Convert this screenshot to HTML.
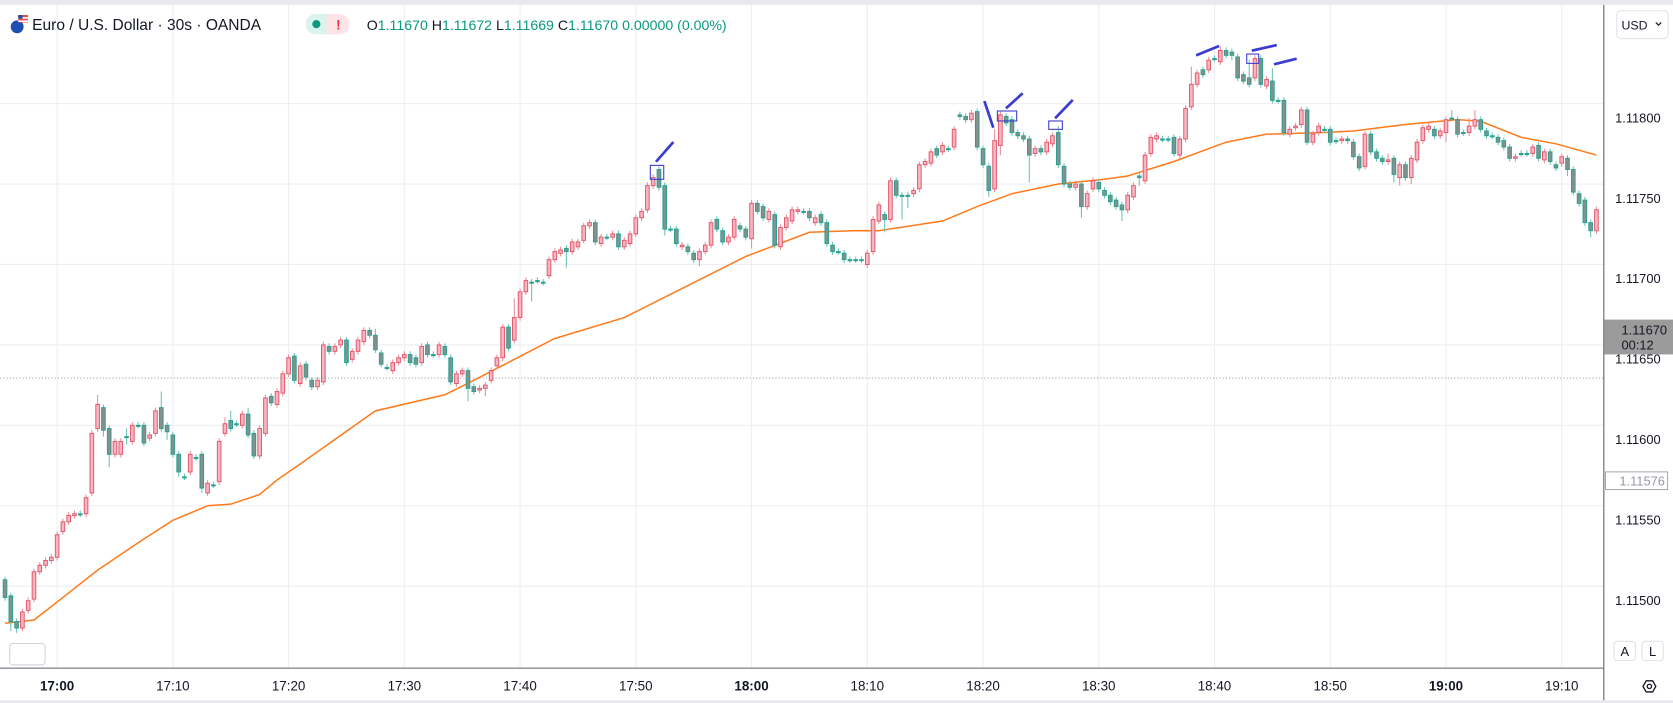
<!DOCTYPE html>
<html><head><meta charset="utf-8"><style>
html,body{margin:0;padding:0;background:#fff;overflow:hidden}
svg{display:block;font-family:"Liberation Sans",sans-serif}
</style></head><body>
<svg id="chart" width="1673" height="703" viewBox="0 0 1560 655.5" preserveAspectRatio="none" xmlns="http://www.w3.org/2000/svg">
<rect x="0" y="0" width="1560" height="655.5" fill="#ffffff"/>
<rect x="0" y="0" width="1560" height="4.5" fill="#e8e9ee"/>
<rect x="0" y="653" width="1560" height="2.5" fill="#e8e9ee"/>
<g id="grid"></g>
<g id="ma"></g>
<g id="candles"></g>
<line x1="0" y1="352.6" x2="1495" y2="352.6" stroke="#9598a1" stroke-width="1" stroke-dasharray="1,2"/>
<g stroke="#3b3bd0" fill="none">
<rect x="606.4" y="154.2" width="12.5" height="13" stroke-width="1"/>
<line x1="611.7" y1="150.8" x2="627.9" y2="132.4" stroke-width="2.5"/>
<line x1="917.9" y1="94.2" x2="926.2" y2="119.1" stroke-width="2.5"/>
<rect x="930" y="103.5" width="18" height="9.3" stroke-width="1"/>
<line x1="938" y1="101" x2="953.6" y2="87" stroke-width="2.5"/>
<rect x="977.9" y="112.8" width="12.7" height="7.8" stroke-width="1"/>
<line x1="983.8" y1="110.3" x2="1000.3" y2="93.2" stroke-width="2.5"/>
<line x1="1115.3" y1="51.6" x2="1136.7" y2="42.9" stroke-width="2.5"/>
<rect x="1162.5" y="50.4" width="11.2" height="8.7" stroke-width="1"/>
<line x1="1167.2" y1="47.3" x2="1190.5" y2="42" stroke-width="2.5"/>
<line x1="1188" y1="60" x2="1209.1" y2="54.7" stroke-width="2.5"/>
</g>
<!-- axes -->
<line x1="1495.5" y1="4.5" x2="1495.5" y2="653" stroke="#5d606b" stroke-width="1"/>
<line x1="0" y1="623" x2="1495.5" y2="623" stroke="#5d606b" stroke-width="1"/>
<g id="yticks"></g>
<g id="xticks"></g>
<!-- header -->
<g>
<circle cx="16" cy="25" r="6" fill="#1e4fb5"/>
<rect x="17" y="14" width="9" height="7" fill="#e34a4a"/>
<rect x="17" y="16" width="9" height="1.5" fill="#fff"/>
<rect x="17" y="19" width="9" height="1.5" fill="#fff"/>
<rect x="17" y="14" width="4" height="3.5" fill="#2a4aa0"/>
</g>
<text x="30" y="28" font-size="14.5" fill="#131722">Euro / U.S. Dollar · 30s · OANDA</text>
<g>
<rect x="285" y="13" width="41" height="19" rx="9.5" fill="#fde4e6"/>
<path d="M294.5 13 h10 v19 h-10 a9.5 9.5 0 0 1 0 -19z" fill="#dcf2ec"/>
<circle cx="295" cy="22.5" r="3.8" fill="#089981"/>
<text x="315.5" y="27.5" font-size="13" fill="#f23645" text-anchor="middle" font-weight="bold">!</text>
</g>
<text x="342" y="28" font-size="13.2" fill="#089981"><tspan fill="#131722">O</tspan>1.11670 <tspan fill="#131722">H</tspan>1.11672 <tspan fill="#131722">L</tspan>1.11669 <tspan fill="#131722">C</tspan>1.11670 0.00000 (0.00%)</text>
<!-- right panel widgets -->
<g>
<rect x="1507.5" y="10" width="48" height="26" rx="4" fill="#fff" stroke="#e0e3eb"/>
<text x="1512" y="27.5" font-size="11.5" fill="#131722">USD</text>
<path d="M1544 21 l2.5 2.5 l2.5 -2.5" stroke="#131722" fill="none" stroke-width="1.1"/>
</g>
<g>
<rect x="1496" y="298" width="64" height="32.5" fill="#9b9b9b"/>
<text x="1512" y="312" font-size="12" fill="#131722">1.11670</text>
<text x="1512" y="326" font-size="12" fill="#131722">00:12</text>
</g>
<g>
<rect x="1497" y="440" width="58" height="16.5" fill="#fff" stroke="#9598a1" stroke-width="0.8"/>
<text x="1510" y="452.5" font-size="12" fill="#9598a1">1.11576</text>
</g>
<g>
<rect x="1505" y="598" width="20" height="18" rx="3" fill="#fff" stroke="#e0e3eb"/>
<text x="1515" y="611.5" font-size="12" fill="#131722" text-anchor="middle">A</text>
</g>
<g>
<rect x="1531" y="598" width="20" height="18" rx="3" fill="#fff" stroke="#e0e3eb"/>
<text x="1541" y="611.5" font-size="12" fill="#131722" text-anchor="middle">L</text>
</g>
<g fill="none" stroke="#131722" stroke-width="1.2">
<path d="M1532 640 l3 -5.2 h6 l3 5.2 l-3 5.2 h-6 z"/>
<circle cx="1538" cy="640" r="2"/>
</g>
<rect x="9" y="600" width="33" height="20" rx="3" fill="#fff" stroke="#d1d4dc"/>
</svg>
<script>
const opens=[504,494,478,474,485,492,509,513,516,518,534,540,544,545,545,558,598,611,598,582,582,593,590,600,600,592,595,611,600,594,582,568,571,580,582,558,563,565,595,603,601,600,607,595,581,595,618,613,620,632,643,
626,638,628,624,627,649,646,650,653,641,646,652,659,656,645,636,634,639,642,644,642,639,650,644,644,649,642,626,632,634,624,622,623,628,637,642,661,653,667,683,689,690,689,693,703,707,710,708,711,
715,724,726,713,717,717,719,711,713,719,729,734,749,759,749,722,722,711,711,707,703,708,712,728,721,714,717,724,722,716,738,736,728,731,711,723,727,733,733,733,726,731,726,712,708,707,703,703,703,
700,708,727,731,728,752,743,743,744,747,762,763,772,770,772,773,793,792,790,795,772,761,747,774,792,790,782,780,778,769,772,770,775,782,761,750,748,750,736,747,751,746,
743,740,737,734,742,755,752,769,778,778,778,779,768,778,798,812,821,821,828,826,833,832,829,818,816,816,828,811,814,802,802,781,785,787,796,776,782,784,784,777,777,778,776,
767,761,781,770,766,764,766,754,762,754,765,777,784,784,780,782,791,790,782,782,786,790,783,780,779,777,773,766,769,769,769,774,765,770,762,763,766,759,744,740,726,721];
const closes=[493,478,474,484,491,509,513,516,518,532,540,544,545,545,555,595,613,597,582,590,590,593,600,600,589,594,609,598,596,582,571,568,582,580,561,564,563,590,601,598,601,607,594,581,598,617,614,621,632,642,628,
637,630,624,628,650,646,649,653,639,646,653,659,656,647,638,636,639,642,644,639,638,649,644,644,650,644,627,632,634,623,621,623,625,634,642,661,648,667,683,690,689,690,689,703,708,709,708,714,714,
724,726,714,717,717,719,711,715,719,729,733,749,754,748,722,722,713,712,708,703,708,712,726,722,714,717,728,722,717,738,733,729,733,712,723,729,734,734,733,729,729,726,713,708,708,703,703,703,703,
707,728,737,728,752,743,743,743,746,762,764,770,768,774,772,784,792,790,794,773,762,746,777,793,788,782,780,778,768,772,770,776,780,762,750,748,750,736,744,752,747,743,
739,736,734,743,749,754,768,779,780,778,778,769,778,797,812,819,818,827,828,833,830,830,816,814,812,828,812,815,802,802,782,784,786,796,776,781,786,784,776,777,778,777,767,
760,781,770,766,764,765,756,762,754,766,776,785,786,780,783,790,791,781,782,786,790,784,780,780,776,773,766,767,769,769,773,766,770,764,760,767,759,745,738,726,721,734];
const upperWick=[2,2,2,2,2,2,2,2,2,2,2,2,2,2,2,2,6,2,2,2,
2,5,2,2,2,2,2,10,2,2,2,2,2,2,2,2,2,2,4,6,
2,2,4,2,2,2,2,2,2,2,2,2,2,2,2,2,2,2,2,2,
2,2,2,2,4,2,2,2,2,2,2,2,2,2,2,2,2,2,2,2,
2,2,2,2,2,2,2,2,12,2,2,2,2,2,2,2,2,2,2,2,
2,2,2,2,2,2,2,2,2,2,2,2,2,2,2,2,2,2,2,2,
2,2,2,2,2,2,2,2,2,2,2,2,2,2,2,2,2,2,2,2,
2,2,2,2,2,2,2,2,2,2,2,2,2,2,2,2,2,2,2,2,
2,2,2,2,2,2,2,2,2,2,2,7,2,2,2,2,2,2,2,2,
2,2,4,2,2,2,2,2,2,2,2,2,2,2,2,2,2,2,2,2,
2,2,2,2,2,11,2,2,2,2,3,2,2,2,2,11,2,2,2,8,
2,2,2,2,2,2,2,2,2,2,2,2,2,2,2,2,2,2,2,4,
2,2,2,2,2,2,2,2,2,2,5,2,2,5,6,2,2,2,2,2,
2,2,2,2,2,2,2,2,2,2,2,2,2,2,2,2];
const lowerWick=[2,6,3,2,2,2,2,2,2,2,2,2,2,2,2,2,2,4,8,2,
2,5,2,2,2,2,2,2,5,2,3,2,2,2,3,2,2,2,2,2,
2,2,2,2,2,2,2,2,2,2,2,2,2,2,2,2,2,2,2,2,
2,2,2,2,2,2,2,2,2,2,2,2,2,2,2,2,2,2,2,2,
8,2,2,5,2,2,2,2,2,2,2,12,2,2,2,2,2,10,2,2,
2,2,2,2,2,2,2,2,2,2,2,2,2,2,4,2,2,2,2,2,
4,2,2,2,2,2,2,2,2,6,2,2,2,2,2,2,2,2,2,2,
2,2,2,2,2,2,2,2,2,2,2,2,8,2,2,15,8,2,2,2,
2,2,2,2,2,2,2,2,2,2,4,2,6,2,2,2,2,17,2,2,
2,2,2,2,2,2,7,2,2,2,2,2,2,7,2,2,5,2,2,2,
2,2,2,2,2,2,2,2,2,2,2,2,3,2,2,2,2,2,2,2,
2,2,2,2,2,2,2,2,2,2,2,2,2,2,2,2,2,2,2,2,
5,5,2,4,2,2,2,2,2,6,2,2,2,2,2,2,2,2,2,2,
2,2,2,2,2,2,2,2,2,2,4,2,2,2,4,2];
const maIndex=[0,5,10,16,23,29,35,39,44,47,51,64,76,81,95,107,128,139,147,151,162,168,174,182,190,194,202,211,218,228,233,242,251,255,262,268,275];
const maValues=[477,479,493,510,527,541,550,551,557,566,576,609,619,628,654,667,705,720,721,721,727,736,744,750,753,755,764,776,781,782,783,787,790,789,779,775,768];
const priceTicks=[800,750,700,650,600,550,500];
const priceTickLabels=["1.11800","1.11750","1.11700","1.11650","1.11600","1.11550","1.11500"];
const timeTickIndex=[9,29,49,69,89,109,129,149,169,189,209,229,249,269];
const timeTickLabels=["17:00","17:10","17:20","17:30","17:40","17:50","18:00","18:10","18:20","18:30","18:40","18:50","19:00","19:10"];

const NS="http://www.w3.org/2000/svg";
const xOf=k=>4.7+k*5.396;
const yOf=p=>96.6+(800-p)*1.5;
function mk(tag,attrs,parent){const e=document.createElementNS(NS,tag);for(const a in attrs)e.setAttribute(a,attrs[a]);parent.appendChild(e);return e;}
const grid=document.getElementById('grid');
const yt=document.getElementById('yticks');
const xt=document.getElementById('xticks');
priceTicks.forEach((p,i)=>{
  const l=mk('line',{x1:0,x2:1495,y1:yOf(p),y2:yOf(p),stroke:'#eceef3','stroke-width':1},grid);
  
  
  const t=mk('text',{x:1506,y:yOf(p)+17.5,'font-size':12,fill:'#131722'},yt);
  t.textContent=priceTickLabels[i];
  
  
});
timeTickIndex.forEach((k,i)=>{
  const l=mk('line',{x1:xOf(k),x2:xOf(k),y1:4.5,y2:623,stroke:'#eceef3','stroke-width':1},grid);
  
  
  const bold=timeTickLabels[i].endsWith(':00');
  const t=mk('text',{x:xOf(k),y:644,'font-size':12.5,fill:'#131722','text-anchor':'middle','font-weight':bold?'bold':'normal'},xt);
  t.textContent=timeTickLabels[i];
  
  
});
const cg=document.getElementById('candles');
for(let k=0;k<opens.length;k++){
  const o=opens[k],c=closes[k];
  const up=c>o;
  const hi=Math.max(o,c)+upperWick[k], lo=Math.min(o,c)-lowerWick[k];
  const stroke=up?'#e2576a':'#22a392';
  const g=mk('g',{},cg);
  
  
  const x=xOf(k);
  mk('line',{x1:x,x2:x,y1:yOf(hi),y2:yOf(lo),stroke:up?'#ea8f9c':'#6cc3b6','stroke-width':1},g);
  const top=yOf(Math.max(o,c)),h=Math.max(1,Math.abs(yOf(o)-yOf(c)));
  mk('rect',{x:x-1.7,y:top,width:3.4,height:h,fill:up?'#f7b6c1':'#8a8e8d',stroke:stroke,'stroke-width':0.9},g);
}
const mg=document.getElementById('ma');
let d='';
maIndex.forEach((k,i)=>{d+=(i?'L':'M')+xOf(k).toFixed(1)+' '+yOf(maValues[i]).toFixed(1)+' ';});
const path=mk('path',{d:d,fill:'none',stroke:'#ff7a1a','stroke-width':1.4},mg);


</script>
</body></html>
